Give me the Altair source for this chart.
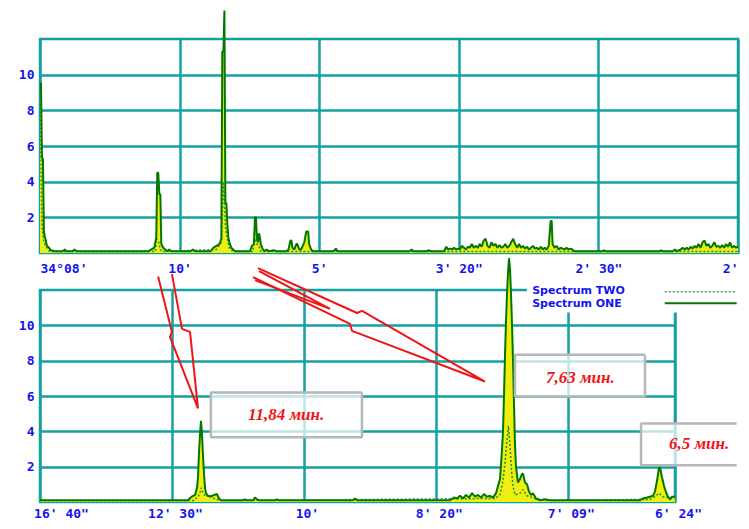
import json
import altair as alt
import pandas as pd

# ---------------- data (frequency in 1e-3 cycles/min, spectral amplitude) ----------------
# Upper panel, Spectrum ONE
top_freq = [0, 0.7, 1.4, 2.1, 2.8, 3.5, 4.2, 4.9, 6.4, 7.8, 10.6,
            16.2, 17.7, 19.1, 23.3, 24.7, 26.1, 77.7,
            81.9, 83.3, 84.0, 84.7, 85.5, 86.2, 86.9, 88.3, 89.7, 91.1, 92.5, 93.9,
            108.0, 109.5, 110.9, 122.2, 124.3, 126.4, 128.5, 129.9,
            130.6, 131.4, 132.1, 132.8, 133.5, 134.2, 134.9, 135.6, 137.0, 138.4, 139.8,
            150.4, 151.8, 153.2, 154.0, 154.7, 155.4, 156.1, 156.8, 157.5, 158.2, 159.6, 161.0, 162.4, 163.8, 167.4, 169.5,
            176.6, 178.0, 179.4, 180.1, 180.8, 182.2, 183.6, 184.3, 185.7, 187.1, 189.3, 190.7, 192.1, 192.8, 194.2, 195.6,
            210.4, 211.9, 213.3, 264.8, 266.2, 267.6, 276.8, 278.2, 280.4, 289.5,
            291.0, 292.4, 293.8, 295.2, 296.6, 298.0, 299.4, 300.8, 302.2, 303.7,
            305.1, 306.5, 307.9, 309.3, 310.7, 312.1, 313.6, 315.0, 316.4, 317.8,
            319.2, 320.6, 322.0, 323.4, 324.9, 326.3, 327.7, 329.1, 330.5, 331.9,
            333.3, 334.7, 336.2, 337.6, 339.0, 340.4, 341.8, 343.2, 344.6, 346.0,
            347.5, 348.9, 350.3, 351.7, 353.1, 354.5, 355.9, 357.3, 358.8, 360.2,
            361.6, 363.0, 364.4, 365.8, 366.5,
            367.2, 368.6, 370.0, 371.5, 372.9, 374.3, 375.7, 377.1, 378.5, 379.9, 381.3, 382.8,
            395.5, 402.5, 404.0, 405.4, 443.5, 444.9, 446.3, 453.4, 454.8, 456.2,
            459.0, 460.4, 461.9, 463.3, 464.7, 466.1, 467.5, 468.9, 470.3, 471.7,
            473.2, 474.6, 476.0, 477.4, 478.8, 480.2, 481.6, 483.0, 484.5, 485.9,
            487.3, 488.7, 490.1, 491.5, 492.9, 494.3, 495.8, 497.2, 498.6, 500.0]
top_one = [9.5, 9.5, 5.3, 5.3, 1.2, 0.9, 0.7, 0.4, 0.3, 0.15, 0.1,
           0.1, 0.2, 0.1, 0.1, 0.2, 0.1, 0.1,
           0.3, 0.9, 4.5, 4.5, 3.3, 3.3, 0.5, 0.3, 0.2, 0.1, 0.2, 0.1,
           0.1, 0.2, 0.1, 0.1, 0.3, 0.4, 0.5, 0.8,
           11.3, 11.3, 13.6, 2.8, 2.8, 1.6, 0.9, 0.6, 0.3, 0.2, 0.1,
           0.1, 0.4, 0.5, 2.0, 2.0, 0.8, 0.6, 1.1, 0.9, 0.5, 0.2, 0.1, 0.2, 0.1, 0.15, 0.1,
           0.1, 0.2, 0.7, 0.7, 0.3, 0.2, 0.5, 0.5, 0.2, 0.2, 0.6, 1.2, 1.2, 0.5, 0.2, 0.1,
           0.1, 0.25, 0.1, 0.1, 0.2, 0.1, 0.1, 0.15, 0.1, 0.1,
           0.35, 0.2, 0.25, 0.2, 0.3, 0.2, 0.25, 0.2, 0.4, 0.3,
           0.2, 0.35, 0.3, 0.5, 0.3, 0.4, 0.3, 0.5, 0.35, 0.7,
           0.8, 0.4, 0.3, 0.6, 0.4, 0.5, 0.3, 0.45, 0.3, 0.35,
           0.5, 0.3, 0.4, 0.6, 0.8, 0.5, 0.3, 0.5, 0.3, 0.4,
           0.25, 0.35, 0.2, 0.3, 0.4, 0.25, 0.3, 0.2, 0.35, 0.2,
           0.3, 0.2, 0.4, 1.8, 1.8,
           0.5, 0.3, 0.4, 0.2, 0.3, 0.25, 0.2, 0.3, 0.2, 0.25, 0.2, 0.1,
           0.1, 0.1, 0.15, 0.1, 0.1, 0.15, 0.1, 0.1, 0.2, 0.1,
           0.2, 0.3, 0.2, 0.3, 0.2, 0.35, 0.25, 0.4, 0.3, 0.5,
           0.3, 0.6, 0.7, 0.4, 0.5, 0.3, 0.4, 0.6, 0.35, 0.4,
           0.3, 0.45, 0.3, 0.5, 0.35, 0.6, 0.3, 0.4, 0.3, 0.35]

# Upper panel, Spectrum TWO
top_two_freq = [0, 0.7, 1.4, 2.8, 4.9, 7.0, 82.6, 83.3, 84.7, 86.2, 87.6,
                126.4, 129.9, 131.4, 132.1, 132.8, 134.2, 135.6, 138.4,
                152.5, 154.0, 155.4, 156.8, 158.2, 500]
top_two = [9.5, 5.0, 1.5, 0.6, 0.3, 0.08, 0.08, 0.8, 0.7, 0.2, 0.08,
           0.2, 0.6, 4.0, 3.0, 1.5, 0.8, 0.3, 0.08,
           0.08, 0.8, 0.5, 0.4, 0.08, 0.08]

# Lower panel, Spectrum ONE
bot_freq = [60.0, 63.0, 76.7, 82.4, 83.0, 83.5, 83.8, 83.95, 84.1, 84.25, 84.4, 84.56, 84.71, 84.86,
            85.01, 85.16, 85.47, 85.92, 86.37, 86.83, 87.13, 87.44,
            90.77, 91.07, 91.38, 92.29, 92.59, 92.89, 93.2, 95.62, 95.92, 96.23, 107.44, 107.75, 108.05,
            122.15, 122.75, 123.21, 123.66, 124.12, 124.57, 125.03, 125.48, 125.94, 126.39, 126.85,
            127.3, 127.76, 128.21, 128.67, 129.12, 129.42, 129.73,
            130.03, 130.18, 130.33, 130.48, 130.64, 130.79, 130.94, 131.09, 131.24, 131.39, 131.55,
            131.7, 131.85, 132.0, 132.15, 132.45, 132.76, 133.06, 133.21, 133.52, 133.82, 134.12,
            134.43, 134.73, 135.18, 135.79, 136.55, 137.31,
            150.95, 151.4, 152.01, 152.46, 152.92, 153.22, 153.52, 153.83, 153.98, 154.28, 154.59,
            154.89, 155.19, 155.5, 155.8, 156.25]
bot_one = [0.1, 0.1, 0.1, 0.1, 0.3, 0.4, 0.8, 1.4, 2.8, 3.8, 4.6, 3.8, 2.6, 1.6,
           0.8, 0.5, 0.35, 0.3, 0.4, 0.45, 0.2, 0.1,
           0.1, 0.15, 0.1, 0.1, 0.25, 0.15, 0.1, 0.1, 0.15, 0.1, 0.1, 0.2, 0.1,
           0.1, 0.25, 0.2, 0.35, 0.2, 0.4, 0.25, 0.5, 0.3, 0.4, 0.25,
           0.45, 0.3, 0.35, 0.25, 0.5, 0.9, 1.3,
           3.0, 4.0, 6.0, 8.3, 10.3, 11.8, 13.0, 13.8, 13.2, 11.8, 10.0,
           8.0, 5.5, 3.2, 2.0, 1.1, 1.3, 1.6, 1.6, 1.1, 1.0, 0.6,
           0.4, 0.5, 0.2, 0.1, 0.15, 0.1,
           0.1, 0.2, 0.25, 0.3, 0.35, 0.6, 1.2, 1.95, 1.95, 1.4, 0.9,
           0.55, 0.3, 0.15, 0.3, 0.3]

# Lower panel, Spectrum TWO
bot_two_freq = [60, 83.3, 83.95, 84.25, 84.4, 84.71, 85.16, 85.77, 86.37, 87.3,
                129.0, 129.73, 130.18, 130.48, 130.79, 131.0, 131.24, 131.47, 131.7, 132.0,
                132.76, 133.21, 133.82, 135.0, 136.5,
                152.46, 153.22, 153.83, 154.43, 155.19, 156.25]
bot_two = [0.08, 0.08, 0.3, 0.5, 0.8, 0.5, 0.3, 0.4, 0.2, 0.08,
           0.2, 0.4, 1.2, 2.2, 3.5, 4.3, 3.2, 1.8, 0.9, 0.4,
           0.5, 0.7, 0.35, 0.2, 0.08,
           0.15, 0.3, 0.5, 0.3, 0.25, 0.2]

# Axis ticks and labels (periods)
top_ticks = [0, 100, 200, 300, 400, 500]
top_tick_labels = ["34°08'", "10'", "5'", "3' 20\"", "2' 30\"", "2'"]
bot_ticks = [60, 80, 100, 120, 140, 156.25]
bot_tick_labels = ["16' 40\"", "12' 30\"", "10'", "8' 20\"", "7' 09\"", "6' 24\""]
y_ticks = [2, 4, 6, 8, 10]

# Annotations on the lower panel (data units)
annot_labels = ["11,84 мин.", "7,63 мин.", "6,5 мин."]
annot_f = [97.3, 141.9, 159.9]
annot_v = [4.90, 7.04, 3.27]
box_f1 = [85.9, 132.0, 151.1]
box_f2 = [108.8, 151.7, 165.6]
box_v1 = [3.66, 5.97, 2.08]
box_v2 = [6.20, 8.34, 4.45]
box_closed = [True, True, False]

arrow1_f = [77.9, 80.0, 79.7, 83.95, 82.74, 81.52, 80.0]
arrow1_v = [12.76, 9.63, 9.35, 5.30, 9.63, 9.80, 12.90]
arrow2_f = [93.04, 108.05, 108.81, 127.45, 107.29, 106.99, 92.29]
arrow2_v = [13.24, 10.70, 10.82, 6.82, 9.69, 10.08, 12.73]
arrow2_inner_f = [93.2, 103.96, 92.59]
arrow2_inner_v = [13.07, 10.93, 12.56]

legend_names = ["Spectrum TWO", "Spectrum ONE"]
legend_text_f = [134.6, 134.6]
legend_text_v = [11.95, 11.22]
legend_box_f = [133.8, 165.6]
legend_box_v = [10.72, 12.5]
legend_line_f = [154.7, 165.6]
legend_line_v = [11.9, 11.25]

# ---------------- styles ----------------
ONE_COLOR = "#007800"
TWO_COLOR = "#238a4a"
FILL_COLOR = "#eeee10"
GRID = "#14a0a0"
LABEL_BLUE = "#1414ee"
RED = "#f01414"
JOIN = "bevel"


def label_expr(vals, labs):
    return f"{json.dumps(labs, ensure_ascii=False)}[indexof({json.dumps(vals)}, datum.value)]"


y_scale = alt.Scale(domain=[0, 12], nice=False, zero=True)
y_axis = alt.Axis(values=y_ticks, title=None, ticks=False, domain=False, labelPadding=6)

top_axis = alt.Axis(values=top_ticks, labelExpr=label_expr(top_ticks, top_tick_labels), title=None,
                    ticks=False, domain=False, labelFlush=True, labelPadding=9)
bot_axis = alt.Axis(values=bot_ticks, labelExpr=label_expr(bot_ticks, bot_tick_labels), title=None,
                    ticks=False, domain=False, labelFlush=False, labelPadding=5, labelFontSize=13,
                    labelOffset={"condition": {"test": "datum.value == 60", "value": 21}, "value": 3})

tX = alt.X("f:Q", scale=alt.Scale(domain=[0, 500], nice=False, zero=False), axis=top_axis)
bX = alt.X("f:Q", scale=alt.Scale(domain=[60, 156.25], nice=False, zero=False), axis=bot_axis)
Y = alt.Y("v:Q", scale=y_scale, axis=y_axis)

top_one_df = pd.DataFrame({"f": top_freq, "v": top_one})
top_two_df = pd.DataFrame({"f": top_two_freq, "v": top_two})
bot_one_df = pd.DataFrame({"f": bot_freq, "v": bot_one})
bot_two_df = pd.DataFrame({"f": bot_two_freq, "v": bot_two})

top = alt.layer(
    alt.Chart(top_one_df).mark_area(color=FILL_COLOR, clip=False).encode(x=tX, y=Y),
    alt.Chart(top_two_df).mark_line(color=TWO_COLOR, strokeWidth=1.5, strokeDash=[2, 2], strokeJoin=JOIN,
                                    clip=False).encode(x=tX, y=Y),
    alt.Chart(top_one_df).mark_line(color=ONE_COLOR, strokeWidth=2, strokeJoin=JOIN, clip=False).encode(x=tX, y=Y),
).properties(width=698, height=214)

# annotation tables
box_df = pd.DataFrame({"f": box_f1, "f2": box_f2, "v": box_v1, "v2": box_v2})
border_rows = []
for i in range(len(box_f1)):
    pts = [(box_f2[i], box_v2[i]), (box_f1[i], box_v2[i]), (box_f1[i], box_v1[i]), (box_f2[i], box_v1[i])]
    if box_closed[i]:
        pts.append((box_f2[i], box_v2[i]))
    for k, (a, b) in enumerate(pts):
        border_rows.append({"box": i, "k": k, "f": a, "v": b})
border_df = pd.DataFrame(border_rows)
text_df = pd.DataFrame({"f": annot_f, "v": annot_v, "label": annot_labels})

arrow_rows = []
for name, fs, vs in [("a1", arrow1_f, arrow1_v), ("a2", arrow2_f, arrow2_v), ("a2i", arrow2_inner_f, arrow2_inner_v)]:
    for k, (a, b) in enumerate(zip(fs, vs)):
        arrow_rows.append({"part": name, "k": k, "f": a, "v": b})
arrow_df = pd.DataFrame(arrow_rows)

leg_box_df = pd.DataFrame({"f": [legend_box_f[0]], "f2": [legend_box_f[1]], "v": [legend_box_v[0]], "v2": [legend_box_v[1]]})
leg_text_df = pd.DataFrame({"f": legend_text_f, "v": legend_text_v, "label": legend_names})
leg_two_df = pd.DataFrame({"f": legend_line_f, "v": [legend_line_v[0]] * 2})
leg_one_df = pd.DataFrame({"f": legend_line_f, "v": [legend_line_v[1]] * 2})

bottom = alt.layer(
    alt.Chart(bot_one_df).mark_area(color=FILL_COLOR, clip=False).encode(x=bX, y=Y),
    alt.Chart(bot_two_df).mark_line(color=TWO_COLOR, strokeWidth=1.5, strokeDash=[2, 2], strokeJoin=JOIN,
                                    clip=False).encode(x=bX, y=Y),
    alt.Chart(bot_one_df).mark_line(color=ONE_COLOR, strokeWidth=2, strokeJoin=JOIN, clip=False).encode(x=bX, y=Y),
    alt.Chart(box_df).mark_rect(fill="white", fillOpacity=0.72, clip=False).encode(x=bX, x2="f2:Q", y=Y, y2="v2:Q"),
    alt.Chart(border_df).mark_line(color="#b4b8b8", strokeWidth=2.5, strokeJoin=JOIN, clip=False).encode(
        x=bX, y=Y, detail="box:N", order="k:Q"),
    alt.Chart(text_df).mark_text(font="Liberation Serif", fontStyle="italic", fontWeight="bold",
                                 fontSize=17, color=RED, clip=False).encode(x=bX, y=Y, text="label:N"),
    alt.Chart(arrow_df).mark_line(color=RED, strokeWidth=2, strokeJoin=JOIN, clip=False).encode(
        x=bX, y=Y, detail="part:N", order="k:Q"),
    alt.Chart(leg_box_df).mark_rect(fill="white", clip=False).encode(x=bX, x2="f2:Q", y=Y, y2="v2:Q"),
    alt.Chart(leg_text_df).mark_text(font="DejaVu Sans", fontWeight="bold", fontSize=11, align="left",
                                     baseline="middle", color=LABEL_BLUE, clip=False).encode(x=bX, y=Y, text="label:N"),
    alt.Chart(leg_two_df).mark_line(color="#3a9a6a", strokeWidth=1.5, strokeDash=[2, 2], strokeJoin=JOIN,
                                    clip=False).encode(x=bX, y=Y),
    alt.Chart(leg_one_df).mark_line(color=ONE_COLOR, strokeWidth=2, strokeJoin=JOIN, clip=False).encode(x=bX, y=Y),
).properties(width=635, height=212)

chart = alt.vconcat(top, bottom, spacing=37, bounds="flush").properties(
    padding={"left": 9, "top": 0, "right": 0, "bottom": 0}
).configure_view(
    stroke=GRID, strokeWidth=2.5
).configure_axis(
    gridColor=GRID, gridWidth=2.5, gridOpacity=1,
    labelFont="DejaVu Sans Mono", labelFontWeight="bold", labelFontSize=13, labelColor=LABEL_BLUE
)

chart.save("out.html", embed_options={"renderer": "svg", "actions": False})
